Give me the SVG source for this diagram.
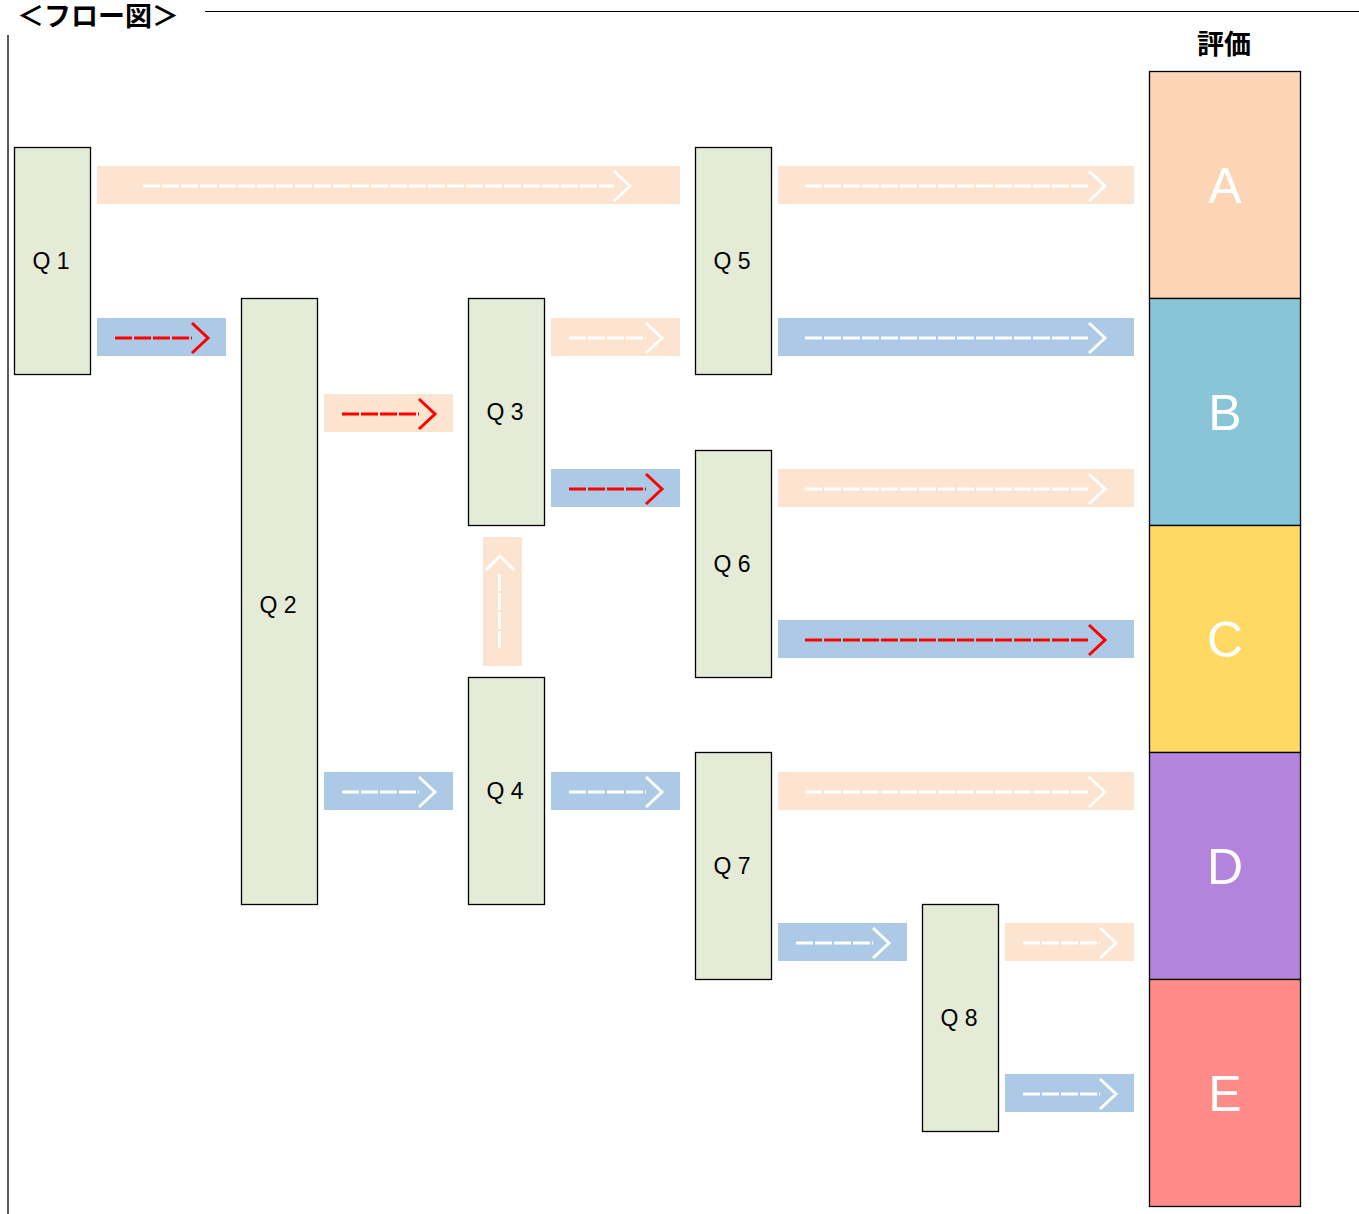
<svg xmlns="http://www.w3.org/2000/svg" width="1359" height="1214" viewBox="0 0 1359 1214">
<style>
.q{fill:#E4EBD6;stroke:#000;stroke-width:1.3}
.ql{font-family:"Liberation Sans","Noto Sans CJK JP",sans-serif;font-size:23px;fill:#000;text-anchor:middle}
.ev{stroke:#000;stroke-width:1.3}
.el{font-family:"Liberation Sans",sans-serif;font-size:50px;fill:#fff;text-anchor:middle}
.pb{fill:#FCE4D1}
.bb{fill:#ACC9E5}
.w{stroke:#fff;stroke-width:3;fill:none}
.r{stroke:#FF0000;stroke-width:3;fill:none}
.d{stroke-dasharray:17 2}
.h{font-family:"Noto Sans CJK JP",sans-serif;font-weight:bold;fill:#000}
</style>
<rect width="1359" height="1214" fill="#fff"/>
<text class="h" x="17" y="26" font-size="27">＜フロー図＞</text>
<line x1="205" y1="11.5" x2="1359" y2="11.5" stroke="#000" stroke-width="1"/>
<line x1="8" y1="35" x2="8" y2="1214" stroke="#000" stroke-width="1.3"/>
<text class="h" x="1224" y="54" font-size="27" text-anchor="middle">評価</text>

<g id="connectors">
<g><rect class="pb" x="97" y="166" width="583" height="38"/><line class="w d" x1="143" y1="186" x2="614" y2="186"/><polyline class="w" points="614,171 630,186 614,201"/></g>
<g><rect class="bb" x="97" y="318" width="129" height="38"/><line class="r d" x1="115" y1="338" x2="192" y2="338"/><polyline class="r" points="192,323 208,338 192,353"/></g>
<g><rect class="pb" x="324" y="394" width="129" height="38"/><line class="r d" x1="342" y1="414" x2="419" y2="414"/><polyline class="r" points="419,399 435,414 419,429"/></g>
<g><rect class="pb" x="551" y="318" width="129" height="38"/><line class="w d" x1="569" y1="338" x2="646" y2="338"/><polyline class="w" points="646,323 662,338 646,353"/></g>
<g><rect class="bb" x="551" y="469" width="129" height="38"/><line class="r d" x1="569" y1="489" x2="646" y2="489"/><polyline class="r" points="646,474 662,489 646,504"/></g>
<g><rect class="pb" x="778" y="166" width="356" height="38"/><line class="w d" x1="805" y1="186" x2="1089" y2="186"/><polyline class="w" points="1089,171 1105,186 1089,201"/></g>
<g><rect class="bb" x="778" y="318" width="356" height="38"/><line class="w d" x1="805" y1="338" x2="1089" y2="338"/><polyline class="w" points="1089,323 1105,338 1089,353"/></g>
<g><rect class="pb" x="778" y="469" width="356" height="38"/><line class="w d" x1="805" y1="489" x2="1089" y2="489"/><polyline class="w" points="1089,474 1105,489 1089,504"/></g>
<g><rect class="bb" x="778" y="620" width="356" height="38"/><line class="r d" x1="805" y1="640" x2="1089" y2="640"/><polyline class="r" points="1089,625 1105,640 1089,655"/></g>
<g><rect class="bb" x="324" y="772" width="129" height="38"/><line class="w d" x1="342" y1="792" x2="419" y2="792"/><polyline class="w" points="419,777 435,792 419,807"/></g>
<g><rect class="bb" x="551" y="772" width="129" height="38"/><line class="w d" x1="569" y1="792" x2="646" y2="792"/><polyline class="w" points="646,777 662,792 646,807"/></g>
<g><rect class="pb" x="778" y="772" width="356" height="38"/><line class="w d" x1="805" y1="792" x2="1089" y2="792"/><polyline class="w" points="1089,777 1105,792 1089,807"/></g>
<g><rect class="bb" x="778" y="923" width="129" height="38"/><line class="w d" x1="796" y1="943" x2="873" y2="943"/><polyline class="w" points="873,928 889,943 873,958"/></g>
<g><rect class="pb" x="1005" y="923" width="129" height="38"/><line class="w d" x1="1023" y1="943" x2="1100" y2="943"/><polyline class="w" points="1100,928 1116,943 1100,958"/></g>
<g><rect class="bb" x="1005" y="1074" width="129" height="38"/><line class="w d" x1="1023" y1="1094" x2="1100" y2="1094"/><polyline class="w" points="1100,1079 1116,1094 1100,1109"/></g>
<g><rect class="pb" x="483" y="537" width="39" height="129"/><line class="w d" x1="499.5" y1="648" x2="499.5" y2="573"/><polyline class="w" points="486,570 500,556 514,570"/></g>
</g>

<g id="Q1"><rect class="q" x="14.5" y="147.5" width="76" height="227"/><text class="ql" x="51" y="269">Q 1</text></g>
<g id="Q2"><rect class="q" x="241.5" y="298.5" width="76" height="606"/><text class="ql" x="278" y="613">Q 2</text></g>
<g id="Q3"><rect class="q" x="468.5" y="298.5" width="76" height="227"/><text class="ql" x="505" y="420">Q 3</text></g>
<g id="Q4"><rect class="q" x="468.5" y="677.5" width="76" height="227"/><text class="ql" x="505" y="799">Q 4</text></g>
<g id="Q5"><rect class="q" x="695.5" y="147.5" width="76" height="227"/><text class="ql" x="732" y="269">Q 5</text></g>
<g id="Q6"><rect class="q" x="695.5" y="450.5" width="76" height="227"/><text class="ql" x="732" y="572">Q 6</text></g>
<g id="Q7"><rect class="q" x="695.5" y="752.5" width="76" height="227"/><text class="ql" x="732" y="874">Q 7</text></g>
<g id="Q8"><rect class="q" x="922.5" y="904.5" width="76" height="227"/><text class="ql" x="959" y="1026">Q 8</text></g>

<g id="A"><rect class="ev" x="1149.5" y="71.5" width="151" height="227" fill="#FBD5B6"/><text class="el" x="1225" y="203">A</text></g>
<g id="B"><rect class="ev" x="1149.5" y="298.5" width="151" height="227" fill="#87C5D7"/><text class="el" x="1225" y="430">B</text></g>
<g id="C"><rect class="ev" x="1149.5" y="525.5" width="151" height="227" fill="#FED963"/><text class="el" x="1225" y="657">C</text></g>
<g id="D"><rect class="ev" x="1149.5" y="752.5" width="151" height="227" fill="#B483DB"/><text class="el" x="1225" y="884">D</text></g>
<g id="E"><rect class="ev" x="1149.5" y="979.5" width="151" height="227" fill="#FF8B89"/><text class="el" x="1225" y="1111">E</text></g>
</svg>
